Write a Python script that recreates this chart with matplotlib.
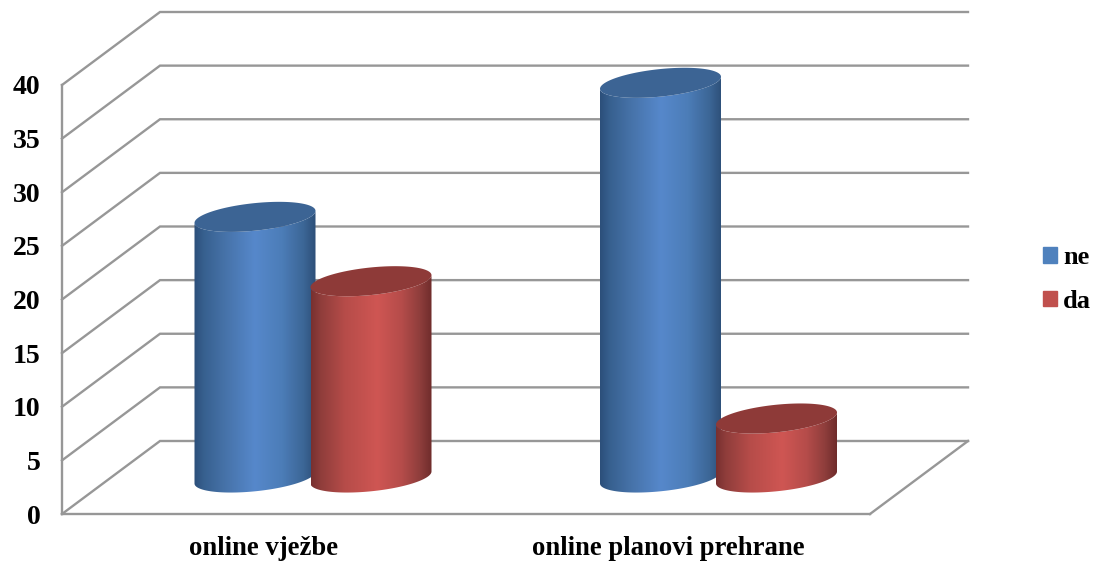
import numpy as np
import matplotlib
matplotlib.use("Agg")
import matplotlib.pyplot as plt
from matplotlib.colors import LinearSegmentedColormap
from matplotlib.patches import Polygon, Rectangle

categories = ["online vježbe", "online planovi prehrane"]
series_names = ["ne", "da"]
ne_values = [24.3, 36.8]
da_values = [18.3, 5.5]
y_ticks = [0, 5, 10, 15, 20, 25, 30, 35, 40]

plt.rcParams["font.family"] = ["Liberation Serif", "DejaVu Serif"]
plt.rcParams["font.weight"] = "bold"
W, H = 1097, 563
fig = plt.figure(figsize=(W / 100, H / 100), dpi=100, facecolor="white")

# axes box = front plane of the 3D chart
L, R, B, T = 62, 870, 514, 85
ax = fig.add_axes([L / W, 1 - B / H, (R - L) / W, (B - T) / H])
ax.patch.set_visible(False)
XMAX, YMAX = 2.0, 40.0
px_x = XMAX / (R - L)
px_y = YMAX / (B - T)

GRID = "#979797"
LW = 1.7
ddx, ddy = 98 * px_x, 73 * px_y

for v in y_ticks:
    ax.plot([0, ddx, XMAX + ddx], [v, v + ddy, v + ddy], color=GRID, lw=LW,
            clip_on=False, zorder=1, solid_joinstyle="miter")
ax.plot([XMAX, XMAX + ddx], [0, ddy], color=GRID, lw=LW, clip_on=False, zorder=1)

blue_cm = LinearSegmentedColormap.from_list("b", [
    (0, "#2c4f7a"), (0.08, "#37608f"), (0.25, "#4672a8"), (0.5, "#5688cb"),
    (0.72, "#4c7db8"), (0.9, "#3c6696"), (1, "#2d4f78")])
red_cm = LinearSegmentedColormap.from_list("r", [
    (0, "#783030"), (0.08, "#8f3d3b"), (0.28, "#b64c49"), (0.55, "#cf5653"),
    (0.75, "#b54c4a"), (0.9, "#8f3e3c"), (1, "#6f2c2b")])
grad = np.linspace(0, 1, 256).reshape(1, -1)

half_w = 60.5 * px_x
minor = 13.8 * px_y
shear = 6 * px_y
offset = 58 * px_x
base = ddy / 2
group_nudge = [0.0, 1.5 * px_x]


def cylinder(cx, value, cmap, top_color, z):
    t = np.linspace(0, 2 * np.pi, 181)
    ex = half_w * np.cos(t)
    ey = minor * np.sin(t) + shear * np.cos(t)
    lower = t >= np.pi
    lx, ly = ex[lower], ey[lower]
    body = np.vstack([
        np.column_stack([cx + lx, base + ly]),
        np.column_stack([cx + lx[::-1], base + value + ly[::-1]]),
    ])
    patch = Polygon(body, closed=True, facecolor="none", edgecolor="none",
                    clip_on=False, zorder=z)
    ax.add_patch(patch)
    im = ax.imshow(grad, cmap=cmap, aspect="auto", zorder=z,
                   extent=(cx - half_w, cx + half_w, base - 3, base + value + 3))
    im.set_clip_path(patch)
    im.set_clip_box(fig.bbox)
    ax.add_patch(Polygon(np.column_stack([cx + ex, base + value + ey]), closed=True,
                         facecolor=top_color, edgecolor="none", clip_on=False,
                         zorder=z + 0.1))


for i, (n, d) in enumerate(zip(ne_values, da_values)):
    c = i + 0.5 + ddx / 2 + group_nudge[i]
    cylinder(c - offset, n, blue_cm, "#3c6494", 3 + i)
    cylinder(c + offset, d, red_cm, "#8e3a38", 3.5 + i)

ax.set_xlim(0, XMAX)
ax.set_ylim(0, YMAX)
ax.set_xticks([0.5, 1.5], categories)
ax.set_yticks(y_ticks)
ax.tick_params(axis="x", length=0, labelsize=19.2, colors="black", pad=16)
ax.tick_params(axis="y", length=0, labelsize=20, colors="black", pad=15.5)
for s in ("top", "right"):
    ax.spines[s].set_visible(False)
for s in ("left", "bottom"):
    ax.spines[s].set_color(GRID)
    ax.spines[s].set_linewidth(LW)

handles = [Rectangle((0, 0), 1, 1, color="#4f81bd"), Rectangle((0, 0), 1, 1, color="#c0504d")]
ax.legend(handles, series_names, loc="center left",
          bbox_to_anchor=(1043 / W, 1 - 279.5 / H), bbox_transform=fig.transFigure,
          frameon=False, borderpad=0, borderaxespad=0, fontsize=19,
          handlelength=0.54, handleheight=0.54, handletextpad=0.22, labelspacing=0.78)

fig.savefig("out.png", dpi=100, facecolor="white")
